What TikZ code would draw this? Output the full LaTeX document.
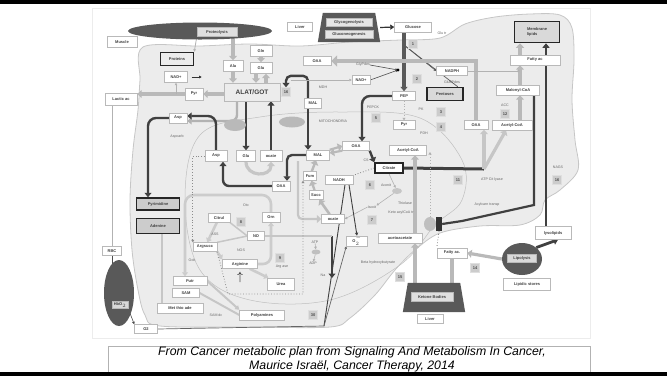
\documentclass[tikz,border=0pt]{standalone}
\usepackage{fontspec}
\setmainfont{Liberation Sans}
\usetikzlibrary{arrows.meta,shapes.geometric}
\pgfdeclarelayer{back}
\pgfdeclarelayer{mid}
\pgfsetlayers{back,mid,main}

\tikzset{
  box/.style={draw=gray!55, fill=white, inner sep=0.6pt, minimum height=9,
    font=\fontsize{4}{4.5}\selectfont\bfseries, text=black!75},
  heavy/.style={box, draw=black!85, line width=1.5pt, fill=gray!30},
  num/.style={draw=gray!25, fill=gray!40, minimum size=9, inner sep=0pt,
    font=\fontsize{4}{4.5}\selectfont\bfseries, text=black!70},
  lab/.style={inner sep=0pt, font=\fontsize{3.6}{4}\selectfont, text=black!60},
  pool/.style={fill=black!65, inner sep=0pt},
  frame/.style={inner sep=0pt, minimum width=62, minimum height=29},
  greyarr/.style={draw=gray!55, line width=3.2pt, -{Triangle[length=4.5pt,width=8pt]}},
  darkarr/.style={draw=black!75, line width=2.4pt, -{Triangle[length=4.5pt,width=7pt]}},
  thinarr/.style={draw=gray!60, line width=0.6pt, -{Triangle[length=2.5pt,width=2.5pt]}},
  dotarr/.style={draw=gray!60, line width=0.8pt, dotted, -{Triangle[length=2.5pt,width=3pt]}},
  urea/.style={draw=gray!40, line width=2.6pt, -{Triangle[length=4pt,width=6pt]}},
}

\begin{document}
\begin{tikzpicture}[x=1pt,y=-1pt]
\useasboundingbox (0,0) rectangle (667,376);
\draw[gray!15] (92,8) rectangle (590,338);

% cell and mitochondria
\begin{pgfonlayer}{back}
\filldraw[fill=gray!15, draw=gray!45, line width=0.8pt] plot[smooth cycle, tension=0.55] coordinates {
  (143,47) (200,46) (250,44) (300,46) (350,42) (400,40) (440,38) (465,24) (495,17)
  (530,14) (560,15) (572,28) (574,60) (572,100) (575,140) (578,170) (560,190)
  (545,200) (540,215) (520,225) (480,226) (440,233) (415,250) (395,270) (375,295)
  (350,318) (330,327) (250,327) (160,326) (145,315) (138,290) (132,250) (130,200)
  (133,150) (138,110) (140,80)};
\draw[gray!50, line width=0.5pt] plot[smooth cycle, tension=0.6] coordinates {
  (200,135) (260,117) (340,112) (420,118) (462,160) (462,200) (435,225) (400,265)
  (330,300) (250,300) (200,270) (185,200)};
\end{pgfonlayer}

% top left
\node[pool, ellipse, minimum width=144, minimum height=17] (protpool) at (200,31) {};
\node[box, fill=gray!25, minimum width=40] (prot) at (217,32) {Proteolysis};
\node[box, minimum width=30, minimum height=11] (muscle) at (122,42) {Muscle};
\node[heavy, fill=gray!15, minimum width=33, minimum height=13] (proteins) at (177,59) {Proteins};
\node[box, minimum width=22, minimum height=11] (gln) at (261,51) {Gln};
\node[box, minimum width=20, minimum height=11] (ala) at (233,66) {Ala};
\node[box, minimum width=22, minimum height=11] (glu) at (261,68) {Glu};
\node[box, minimum width=23, minimum height=11] (nadA) at (176,77) {NAD+};
\node[box, minimum width=18, minimum height=12] (pyrA) at (194,94) {Pyr};
\node[box, fill=gray!15, minimum width=56, minimum height=18, font=\fontsize{6.5}{7}\selectfont\bfseries] (alat) at (252,92) {ALAT/GOT};
\node[num] (n16) at (286,92) {16};
\node[box, minimum width=32, minimum height=12] (lactic) at (121,99) {Lactic ac};
\node[box, minimum width=18, minimum height=10] (aspA) at (178,118) {Asp};
\node[lab] (aspcarb) at (177,137) {Aspcarb};

% left, mitochondrial side
\node[pool, ellipse, fill=gray!55, minimum width=22, minimum height=12] (trA) at (235,125) {};
\node[pool, ellipse, fill=gray!55, minimum width=26, minimum height=11] (trB) at (292,122) {};
\node[lab] (mito) at (333,121) {MITOCHONDRIA};
\node[box, minimum width=22, minimum height=11] (aspB) at (216,156) {Asp};
\node[box, minimum width=19, minimum height=11] (gluB) at (246,156) {Glu};
\node[box, minimum width=22, minimum height=11] (ocateA) at (271,156) {ocate};
\node[box, minimum width=18, minimum height=10] (oaaA) at (281,186) {OAA};
\node[heavy, fill=gray!40, minimum width=43, minimum height=12] (pyrim) at (158,204) {Pyrimidine};
\node[heavy, fill=gray!40, minimum width=43, minimum height=15] (aden) at (158,226) {Adenine};

% urea cycle
\node[lab] (otc) at (246,205) {Otc};
\node[box, minimum width=22] (citrul) at (219,218) {Citrul};
\node[num] (n8) at (241,222) {8};
\node[box, minimum width=18, minimum height=10] (orn) at (271,217) {Orn};
\node[box, minimum width=17] (no) at (256,236) {NO};
\node[lab] (ass) at (215,234) {ASS};
\node[lab] (nos) at (241,250) {NOS};
\node[box, minimum width=24] (argsucc) at (205,247) {Argsucc};
\node[box, minimum width=35] (arg) at (240,264) {Arginine};
\node[font=\large, inner sep=0pt] (argup) at (240,277) {$\uparrow$};
\node[num] (n9) at (280,258) {9};
\node[lab] (argase) at (282,267) {Arg ase};
\node[box, minimum width=27, minimum height=12] (urea) at (281,284) {Urea};
\node[lab] (odc) at (192,260) {Odc};
\node[box, minimum width=34] (putr) at (190,281) {Putr};
\node[box, minimum width=27] (sam) at (186,293) {SAM};
\node[box, minimum width=46, minimum height=10] (mta) at (180,308) {Met thio ade};
\node[box, minimum width=45, minimum height=10] (polyam) at (262,315) {Polyamines};
\node[lab] (samdc) at (216,315) {SAM dc};
\node[box, minimum width=19] (rbc) at (112,251) {RBC};
\node[pool, ellipse, minimum width=30, minimum height=66] (hbell) at (119,293) {};
\node[box, fill=gray!30, minimum width=16, minimum height=7] (hbo2) at (120,305) {HbO$_2$};
\node[box, minimum width=23] (o2) at (146,329) {O2};

% top middle
\node[box, minimum width=25] (liverA) at (300,27) {Liver};
\node[frame] (glyco) at (349,27.5) {};
\fill[black!65] (glyco.south west) -- ([xshift=5]glyco.north west) -- ([xshift=-5]glyco.north east) -- (glyco.south east) -- cycle;
\node[box, fill=gray!20, minimum width=46, minimum height=8] (glycogen) at (349,22) {Glycogenolysis};
\node[box, fill=gray!20, minimum width=48, minimum height=8] (gluconeo) at (349,34) {Gluconeogenesis};
\node[box, minimum width=37, minimum height=10] (glucose) at (413,27) {Glucose};
\node[lab] (glutr) at (442,33) {Glu tr};
\node[num] (n1) at (413,44) {1};
\node[box, minimum width=28] (oaaB) at (317,61) {OAA};
\node[lab] (glyp) at (363,65) {GlyPdes};
\node[box, minimum width=18] (nadB) at (361,80) {NAD+};
\node[lab] (mdh) at (323,87) {MDH};
\node[num] (n2) at (417,79) {2};
\node[box, minimum width=31] (nadph) at (452,71) {NADPH};
\node[lab] (g6pd) at (452,82) {Glu6Pdes};
\node[heavy, minimum width=36, minimum height=13] (pent) at (445,94) {Pentoses};
\node[box, minimum width=23] (pep) at (404,96) {PEP};
\node[lab] (pepck) at (373,107) {PEPCK};
\node[num] (n5) at (376,118) {5};
\node[lab] (pk) at (421,109) {PK};
\node[num] (n3) at (441,112) {3};
\node[num] (n4) at (441,127) {4};
\node[box, minimum width=22] (pyrB) at (404,125) {Pyr};
\node[lab] (pdh) at (424,133) {PDH};
\node[box, minimum width=17, minimum height=10] (malA) at (313,103) {MAL};

% top right
\node[heavy, minimum width=45, minimum height=21, align=left] (memb) at (537,32) {Membrane\\lipids};
\node[box, minimum width=50, minimum height=10] (fattyA) at (535,60) {Fatty ac};
\node[box, minimum width=43, minimum height=10] (malonyl) at (518,90) {Malonyl-CoA};
\node[lab] (acc) at (505,105) {ACC};
\node[num] (n12) at (505,114) {12};
\node[box, minimum width=24] (oaaC) at (476,125) {OAA};
\node[box, minimum width=40, minimum height=10] (acoaB) at (512,125) {Acetyl-CoA};
\node[num] (n11) at (458,180) {11};
\node[lab] (acl) at (492,180) {ATP Cit lyase};
\node[lab] (acyl) at (487,205) {Acylcarn transp};
\node[lab] (nags) at (558,167) {NAGS};
\node[num] (n16b) at (557,180) {16};
\node[box, minimum width=36, minimum height=13] (lyso) at (553,233) {lysolipids};

% centre
\node[box, minimum width=27] (oaaD) at (356,146) {OAA};
\node[box, minimum width=23, minimum height=10] (malB) at (318,155) {MAL};
\node[lab] (cs) at (366,160) {CS};
\node[box, minimum width=37, minimum height=10] (acoaA) at (408,150) {Acetyl-CoA};
\node[heavy, fill=white, minimum width=28, minimum height=10] (citrate) at (389,168) {Citrate};
\node[box, minimum width=13] (fum) at (310,176) {Fum};
\node[box, minimum width=14] (succ) at (316,195) {Succ};
\node[box, minimum width=23] (ocateB) at (333,219) {ocate};
\node[box, minimum width=28] (nadh) at (339,180) {NADH};
\node[num] (n6) at (370,185) {6};
\node[lab] (aconit) at (386,185) {Aconit};
\node[pool, ellipse, fill=gray!45, minimum width=10, minimum height=6] (acell) at (397,191) {};
\node[lab] (isocit) at (372,207) {Isocit};
\node[num] (n7) at (372,220) {7};
\node[lab] (thiol) at (405,203) {Thiolase};
\node[lab] (keto) at (401,213) {Keto acylCoA tr};
\node[box, minimum width=44, minimum height=10] (acac) at (400,238) {acetoacetate};
\node[box, minimum width=21] (superox) at (357,241) {O$_2^{-}$};
\node[lab] (atp) at (315,242) {ATP};
\node[lab] (adp) at (313,263) {ADP};
\node[lab] (na) at (323,275) {Na};
\node[pool, ellipse, fill=gray!50, minimum width=9, minimum height=5] (pump) at (316,252) {};
\node[lab] (bhb) at (378,263) {Beta hydroxybutyrate};
\node[num] (n15) at (400,277) {15};
\node[num] (n30) at (313,315) {30};
\node[pool, ellipse, fill=gray!50, minimum width=12, minimum height=14] (carn) at (430,224) {};
\node[pool, fill=black!80, minimum width=6, minimum height=14] (carnrect) at (439,224) {};

% bottom right
\node[frame] (ketpool) at (434,297.5) {};
\fill[black!65] (ketpool.south west) -- ([xshift=5]ketpool.north west) -- ([xshift=-5]ketpool.north east) -- (ketpool.south east) -- cycle;
\node[box, fill=gray!25, minimum width=42] (ketone) at (432,297) {Ketone Bodies};
\node[box, minimum width=26] (liverB) at (430,319) {Liver};
\node[box, minimum width=30, minimum height=10] (fattyB) at (452,253) {Fatty ac.};
\node[num] (n14) at (475,268) {14};
\node[pool, ellipse, minimum width=40, minimum height=32] (lipell) at (522,259) {};
\node[box, fill=gray!30, minimum width=29, minimum height=8] (lipol) at (522,258) {Lipolysis};
\node[box, minimum width=47, minimum height=12] (stores) at (527,284) {Lipidic stores};

% caption
\node[draw=gray!60, line width=0.6pt, minimum width=482, minimum height=26, inner sep=0pt] (capbox) at (349,359) {};
\node[font=\fontsize{12.3}{14}\selectfont\itshape, align=center, inner sep=0pt] (cap) at (352,359)
  {From Cancer metabolic plan from Signaling And Metabolism In Cancer,\\Maurice Israël, Cancer Therapy, 2014};

\coordinate (g6p) at (404,45);
\coordinate (gpx) at (398,70);
\coordinate (tcaL) at (298,161);
\coordinate (fumdot) at (228,294);
\coordinate (aclj) at (484,169);
\coordinate (acyl1) at (534,205);
\coordinate (acyl2) at (462,221);
\coordinate (pdhdot) at (430,152);
\coordinate (o2turn) at (324,326);
\coordinate (naTop) at (332,236);
\coordinate (naBot) at (332,278);
\coordinate (ucTR) at (271,195);
\coordinate (ucTL) at (185,195);

\begin{pgfonlayer}{mid}
% amino acids and pyruvate
\draw[thinarr, line width=0.8pt] (prot.south west) -- (proteins.north east);
\draw[greyarr] (prot.south -| ala) -- (ala);
\draw[greyarr] (gln) -- (glu);
\draw[greyarr] (ala) -- (ala |- alat.north);
\draw[greyarr] ([xshift=-5]glu.south) -- ([xshift=-5]glu.south |- alat.north);
\draw[greyarr] ([xshift=5]glu.south |- alat.north) -- ([xshift=5]glu.south);
\draw[greyarr] (alat.west |- pyrA) -- (pyrA);
\draw[greyarr] (pyrA.west) -- (lactic.east |- pyrA.west);
\draw[thinarr] (pyrA.west -| nadA) -- (nadA);
\draw[-{Triangle[length=2.5pt,width=2.5pt]}, black!80, line width=0.6pt] (nadA.east) ++(4,0) -- ++(10,0);
\draw[gray!60, line width=0.6pt] (lactic.south -| rbc) -- (rbc);
\draw[thinarr, draw=black!70] (rbc.south) -- (rbc.south |- hbo2.north);
\draw[thinarr, draw=black!70] (hbo2.south east) -- (o2.north west);
% aspartate
\draw[darkarr, rounded corners=8pt] (aspA.west) -| ([xshift=-10]pyrim.north);
\draw[darkarr, draw=gray!60, rounded corners=6pt] ([xshift=-15]alat.south) |- ([yshift=-3]aspA.east);
\draw[darkarr, rounded corners=8pt] (aspB.north) |- ([yshift=2]aspA.east);
\draw[darkarr, rounded corners=6pt] (oaaA.west) -| ([xshift=7]aspB.south);
\draw[greyarr, draw=gray!45] (gluB.south) to[out=-90, in=-90, looseness=1.6] (ocateA.south);
\draw[darkarr] (alat.south -| gluB) -- (gluB);
\draw[darkarr] (ocateA) -- (ocateA |- alat.south);
\draw[darkarr, rounded corners=5pt] ([xshift=-5]malA.north) -- ++(0,-22) -| (n16.north);
\draw[darkarr] ([xshift=-5]malA.south) -- ([xshift=-5]malA.south |- malB.north);
\draw[darkarr, rounded corners=5pt] (malB.west) -| ([xshift=6]oaaA.north);
% glucose
\draw[-{Triangle[length=4pt,width=5pt]}, black!80, line width=1.2pt] (glyco.east) -- (glucose.west);
\draw[darkarr, draw=black!65, line width=4pt] (glucose.south -| pep) -- (pep);
\draw[thinarr, draw=black!65, line width=0.7pt] (g6p) -- (nadph.west);
\draw[black!65, line width=0.7pt] (g6p) -- ([xshift=-6]pent.north east);
\draw[greyarr, line width=4.5pt, -{Triangle[length=6pt,width=11pt]}] (oaaC.north) |- (oaaB.east);
\draw[thinarr, draw=black!70] (glyp.east) -- (gpx);
\draw[thinarr, draw=black!70] (nadB.east) -- (gpx);
\fill[black] (gpx) circle (1.6);
\draw[thinarr] (n16.east |- nadB.west) -- (nadB.west);
\draw[darkarr, rounded corners=8pt] (pep.west) -| ([xshift=6]oaaD.north);
\draw[dotarr] (pep) -- (pyrB);
% krebs
\draw[darkarr] (oaaD.south east) -- (citrate.north west);
\draw[greyarr, line width=2.2pt] (malB.north east) -- (oaaD.west);
\draw[greyarr, line width=2.2pt] (oaaD.south west) -- ([yshift=2]malB.east);
\draw[greyarr, line width=2.4pt] (fum) -- (malB);
\draw[greyarr, line width=2.4pt] (succ) -- (fum);
\draw[greyarr, line width=2.6pt] (ocateB) -- (succ);
\draw[greyarr, draw=gray!45, line width=2.2pt, rounded corners=4pt] (tcaL) |- (ocateB.west);
\draw[thinarr] (citrate.south) -- (acell);
\draw[thinarr] (acell) -- (isocit.north east);
\draw[thinarr] (isocit.west) -- (ocateB.east);
\draw[dotted, draw=black!50, line width=0.8pt] (citrate.west) -- (nadh.north east);
\draw[black!75, line width=0.9pt] ([xshift=6]nadh.south) -- (o2turn);
\draw[-{Triangle[length=3pt,width=3pt]}, black!75, line width=0.9pt] ([xshift=10]nadh.south) -- (superox.north);
\draw[thinarr, draw=black!60, line width=0.7pt] (o2.east) -- (o2turn) -- (superox.south west);
\draw[darkarr, line width=2.2pt] (naTop) -- (naBot);
\draw[thinarr] (atp) -- (pump);
\draw[thinarr] (pump) -- (adp);
% citrate out, lipids
\draw[black!75, line width=3pt] (citrate.east) -- (aclj);
\draw[greyarr, draw=gray!45] (aclj) -- (aclj |- oaaC.south);
\draw[greyarr, draw=gray!45] (aclj) -- ([xshift=-6]acoaB.south);
\draw[greyarr] ([xshift=8]acoaB.north) -- ([xshift=8]acoaB.north |- malonyl.south);
\draw[greyarr] ([xshift=2]malonyl.north) -- ([xshift=2]malonyl.north |- fattyA.south);
\draw[greyarr] ([xshift=-15]fattyA.north) -- ([xshift=-15]fattyA.north |- memb.south);
\draw[darkarr, line width=2.8pt] ([xshift=-7]lyso.north) -- ([xshift=-7]lyso.north |- memb.south);
\draw[thinarr, line width=0.8pt] (nadph.east) -- ([xshift=-15]fattyA.south |- nadph.east);
\draw[black!75, line width=2.2pt] ([xshift=16]malonyl.south) -- (acyl1) -- (acyl2) -- (carnrect.east);
\draw[greyarr] (lipell.west) -- (fattyB.east);
\draw[darkarr, line width=2.8pt] (lipell.north east) -- ([xshift=5]lyso.south);
\draw[gray!55, line width=4pt] (fattyB.south) -- (fattyB.south |- ketpool.north);
\draw[greyarr, line width=4pt] ([xshift=15]acac.south |- ketpool.north) -- ([xshift=15]acac.south);
\draw[greyarr, line width=4pt] ([xshift=15]acac.north) -- ([xshift=15]acac.north |- acoaA.south);
\draw[dotarr] (carn.north) -- (pdhdot);
\draw[dotted, draw=black!50, line width=0.8pt] (carnrect.south) -- (fattyB.north west);
% urea cycle
\draw[urea, rounded corners=9pt] (orn.north) -- (ucTR) -- (ucTL) -- (ucTL |- putr.north);
\draw[urea] (citrul) -- (argsucc);
\draw[urea] (argsucc.south east) -- (arg.north west);
\draw[urea, rounded corners=8pt] (arg.east) -| (orn.south);
\draw[urea] (arg) -- (urea);
\draw[gray!45, line width=1.5pt] (no.west) -- (citrul.south east);
\draw[gray!45, line width=1.5pt] (no.west) -- (argsucc.north east);
\draw[gray!45, line width=1.2pt] (no.east) -- (no.east -| naTop);
\draw[dotarr, draw=black!45] (aspB.west) -| (argsucc.north west);
\draw[dotarr, draw=black!45] (argsucc.south east) -- (fumdot) -| ([xshift=-7]fum.south);
\draw[gray!45, line width=2pt, -{Triangle[length=4pt,width=5pt]}] (putr.east) -- (polyam.north west);
\draw[gray!45, line width=2pt] (sam.east) -- (polyam.west);
\draw[gray!45, line width=2.4pt] ([xshift=4]aden.south) -- ([xshift=4]aden.south |- mta.north);
\end{pgfonlayer}

\fill[black] (0,0) rectangle (667,3.5);
\fill[black] (0,371.5) rectangle (667,376);
\end{tikzpicture}
\end{document}
